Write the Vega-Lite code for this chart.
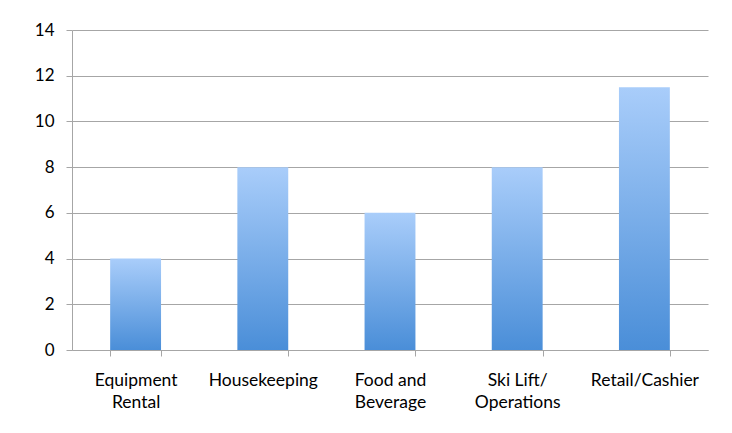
{
  "$schema": "https://vega.github.io/schema/vega-lite/v6.json",
  "width": 636,
  "height": 320,
  "autosize": "none",
  "padding": {"left": 72, "top": 30, "right": 24, "bottom": 83},
  "background": "white",
  "data": {
    "values": [
      {"job": "Equipment Rental", "value": 4},
      {"job": "Housekeeping", "value": 8},
      {"job": "Food and Beverage", "value": 6},
      {"job": "Ski Lift/ Operations", "value": 8},
      {"job": "Retail/Cashier", "value": 11.5}
    ]
  },
  "config": {
    "view": {"stroke": null},
    "axis": {"labelFont": "Lato", "labelColor": "#000000"}
  },
  "mark": {
    "type": "bar",
    "color": {
      "gradient": "linear",
      "x1": 0, "y1": 0, "x2": 0, "y2": 1,
      "stops": [
        {"offset": 0, "color": "#a9cdfa"},
        {"offset": 1, "color": "#4a8ed8"}
      ]
    }
  },
  "encoding": {
    "x": {
      "field": "job",
      "type": "nominal",
      "sort": null,
      "scale": {"paddingInner": 0.6, "paddingOuter": 0.3},
      "axis": {
        "title": null,
        "labelAngle": 0,
        "labelFontSize": 17.5,
        "labelLineHeight": 22,
        "labelPadding": 15,
        "tickBand": "extent",
        "tickSize": 6,
        "tickColor": "#a6a6a6",
        "domainColor": "#a6a6a6",
        "labelExpr": "datum.value == 'Equipment Rental' ? ['Equipment', 'Rental'] : datum.value == 'Food and Beverage' ? ['Food and', 'Beverage'] : datum.value == 'Ski Lift/ Operations' ? ['Ski Lift/', 'Operations'] : datum.value"
      }
    },
    "y": {
      "field": "value",
      "type": "quantitative",
      "scale": {"domain": [0, 14], "nice": false},
      "axis": {
        "title": null,
        "values": [0, 2, 4, 6, 8, 10, 12, 14],
        "labelFontSize": 17,
        "labelPadding": 12,
        "tickSize": 6,
        "tickColor": "#a6a6a6",
        "domainColor": "#a6a6a6",
        "gridColor": "#a6a6a6",
        "grid": true
      }
    }
  }
}
